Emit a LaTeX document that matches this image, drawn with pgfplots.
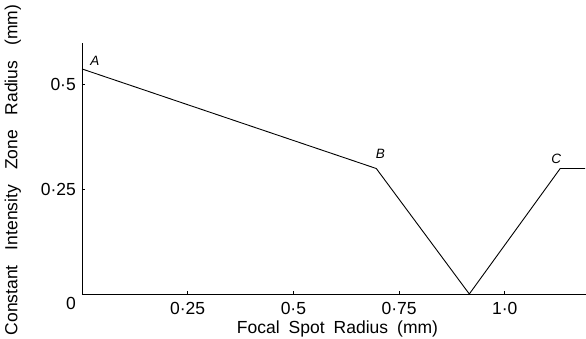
\documentclass[border=0pt]{standalone}
\usepackage{pgfplots}
\pgfplotsset{compat=1.18}
\usepackage{fontspec}
\setmainfont{Liberation Sans}
\begin{document}
\begin{tikzpicture}
\useasboundingbox (-82pt,-44pt) rectangle (504pt,294pt);
\begin{axis}[
  at={(0,0)}, anchor=south west,
  scale only axis, width=504pt, height=251pt,
  xmin=0, xmax=1.192, ymin=0, ymax=0.6,
  enlargelimits=false, clip=false,
  axis lines*=left,
  x axis line style={-}, y axis line style={-},
  axis line style={line width=0.9pt, black},
  tick align=inside, major tick length=3pt,
  tick style={line width=0.8pt, black},
  xtick={0.25,0.5,0.75,1.0}, xticklabels={0·25,0·5,0·75,1·0},
  ytick={0.25,0.5}, yticklabels={0·25,0·5},
  xticklabel style={anchor=base, yshift=-20pt, inner sep=0pt},
  yticklabel style={anchor=east, xshift=-6pt, inner sep=0pt},
  tick label style={font=\fontsize{17.5}{20}\selectfont},
  /pgf/number format/assume math mode=true,
]
\addplot[black, line width=0.9pt] coordinates {(0,0.538) (0.696,0.3) (0.916,0) (1.131,0.3) (1.19,0.3)};
\node[font=\fontsize{13.5}{15}\selectfont\itshape] at ([xshift=13pt,yshift=8pt]axis cs:0,0.538) {A};
\node[font=\fontsize{13.5}{15}\selectfont\itshape] at ([xshift=4pt,yshift=15pt]axis cs:0.696,0.3) {B};
\node[font=\fontsize{13.5}{15}\selectfont\itshape] at ([xshift=-4pt,yshift=10pt]axis cs:1.131,0.3) {C};
\end{axis}
\node[font=\fontsize{17.5}{20}\selectfont] at (-11pt,-9pt) {0};
\node[font=\fontsize{17.5}{20}\selectfont, anchor=base] at (255.5pt,-39.5pt) {Focal\hspace{9pt}Spot\hspace{9pt}Radius\hspace{9pt}(mm)};
\node[font=\fontsize{17.5}{20}\selectfont, anchor=base, rotate=90] at (-64.5pt,124pt) {Constant\hspace{15pt}Intensity\hspace{15pt}Zone\hspace{15pt}Radius\hspace{15pt}(mm)};
\end{tikzpicture}
\end{document}
